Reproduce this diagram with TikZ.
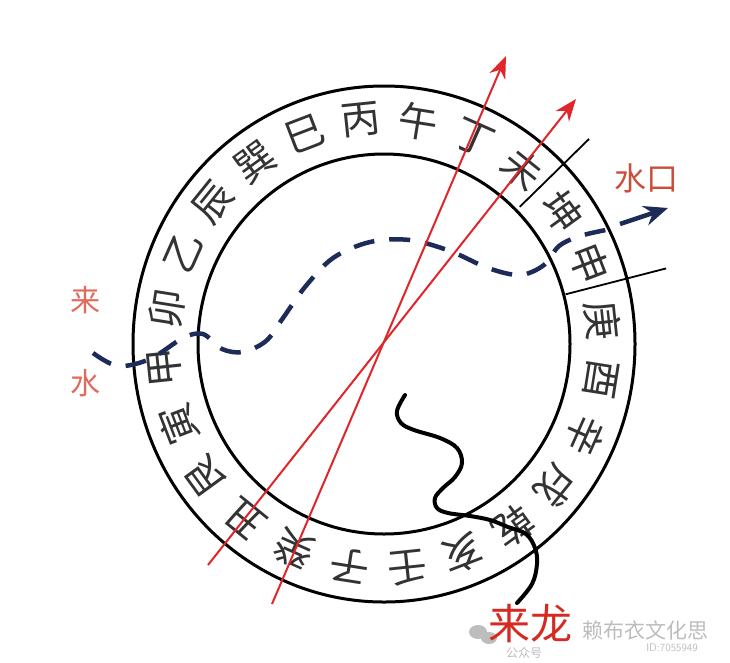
\documentclass[tikz,border=0pt]{standalone}
\usepackage{fontspec}
\newfontfamily\cjk{Noto Sans CJK SC}
\usetikzlibrary{arrows.meta}
\definecolor{ringred}{HTML}{E0262B}
\definecolor{navy}{HTML}{1C2B58}
\definecolor{labred}{HTML}{C8503A}
\definecolor{pinkred}{HTML}{E06A5E}
\definecolor{dragred}{HTML}{D42A22}
\definecolor{wmgray}{HTML}{BDBDBD}
\tikzset{
  ringline/.style={line width=3pt, black},
  divline/.style={line width=1.8pt, black},
  mtn/.style={font=\cjk\fontsize{39.5}{39.5}\selectfont, inner sep=0pt, text=black!80},
  redarrow/.style={line width=2pt, ringred, -{Stealth[length=22pt,width=17pt,inset=7pt]}},
  bluedash/.style={line width=4.5pt, navy, dash pattern=on 21pt off 15pt},
  bluearrow/.style={line width=4.5pt, navy, -{Stealth[length=24pt,width=20pt,inset=8pt]}},
  dragon/.style={line width=4pt, black, line cap=round},
  lab/.style={font=\cjk\fontsize{32}{32}\selectfont, inner sep=0pt},
  wm/.style={font=\cjk, text=wmgray, inner sep=0pt}
}
\begin{document}
\begin{tikzpicture}[x=1pt,y=-1pt]
\useasboundingbox (0,0) rectangle (730,662);
\fill[white] (0,0) rectangle (730,662);
\coordinate (c) at (384,344);
% ring
\draw[ringline] (c) ellipse [x radius=251, y radius=258];
\draw[ringline] (c) ellipse [x radius=186, y radius=190];
% dividers
\coordinate (d1a) at ([shift={(-45:192 and 194)}]c);
\coordinate (d1b) at ([shift={(-45:290 and 290)}]c);
\coordinate (d2a) at ([shift={(-15:188 and 192)}]c);
\coordinate (d2b) at ([shift={(-15:292 and 292)}]c);
\draw[divline] (d1a) -- (d1b);
\draw[divline] (d2a) -- (d2b);
% 24 mountains
\foreach \ch [count=\i] in {庚,申,坤,未,丁,午,丙,巳,巽,辰,乙,卯,甲,寅,艮,丑,癸,子,壬,亥,乾,戌,辛,酉} {
  \pgfmathsetmacro\ang{7.5+15*(\i-1)-1.5}
  \node[mtn, rotate=\ang-90] (m\i) at ([shift={(-\ang:220 and 225)}]c) {\ch};
}
% blue water path
\draw[bluedash] plot[smooth, tension=0.55] coordinates {
 (93,353) (118,366) (150,359) (183,338) (203,334) (222,349) (243,352)
 (266,341) (283,318) (305,287) (333,258) (370,242) (410,240) (450,251)
 (488,268) (520,275) (544,265) (559,246) (580,236) (606,230)};
\coordinate (wa) at (620,224);
\coordinate (wb) at (668,208);
\draw[bluearrow] (wa) -- (wb);
% red lines
\coordinate (a1) at (208,565);
\coordinate (a2) at (576,99);
\coordinate (b1) at (272,604);
\coordinate (b2) at (506,56);
\draw[redarrow] (a1) -- (a2);
\draw[redarrow] (b1) -- (b2);
% dragon line
\draw[dragon] plot[smooth, tension=0.6] coordinates {
 (405,395) (397,411) (401,423) (414,430) (440,438) (457,448) (462,463)
 (455,477) (443,488) (435,498) (437,508) (448,513) (470,516) (490,520)
 (508,527) (526,534) (535,548) (537,564) (532,584) (517,603)};
% watermark
\fill[wmgray] (478,632) ellipse [x radius=9, y radius=7];
\fill[wmgray] (489,638) ellipse [x radius=8, y radius=6];
\node[wm, font=\cjk\fontsize{12}{12}\selectfont] (wm1) at (524,653) {公众号};
\node[wm, font=\cjk\fontsize{21}{21}\selectfont] (wm2) at (645,630) {赖布衣文化思};
\node[wm, font=\sffamily\fontsize{11}{11}\selectfont] (wm3) at (672,648) {ID:7055949};
% labels
\node[lab, text=pinkred, font=\cjk\fontsize{30}{30}\selectfont] (lai1) at (85,300) {来};
\node[lab, text=pinkred, font=\cjk\fontsize{30}{30}\selectfont] (shui1) at (85,383) {水};
\node[lab, text=labred] (sk) at (646,178) {水口};
\node[lab, text=dragred, font=\cjk\fontsize{42}{42}\selectfont] (ll) at (530,624) {来龙};
\end{tikzpicture}
\end{document}
